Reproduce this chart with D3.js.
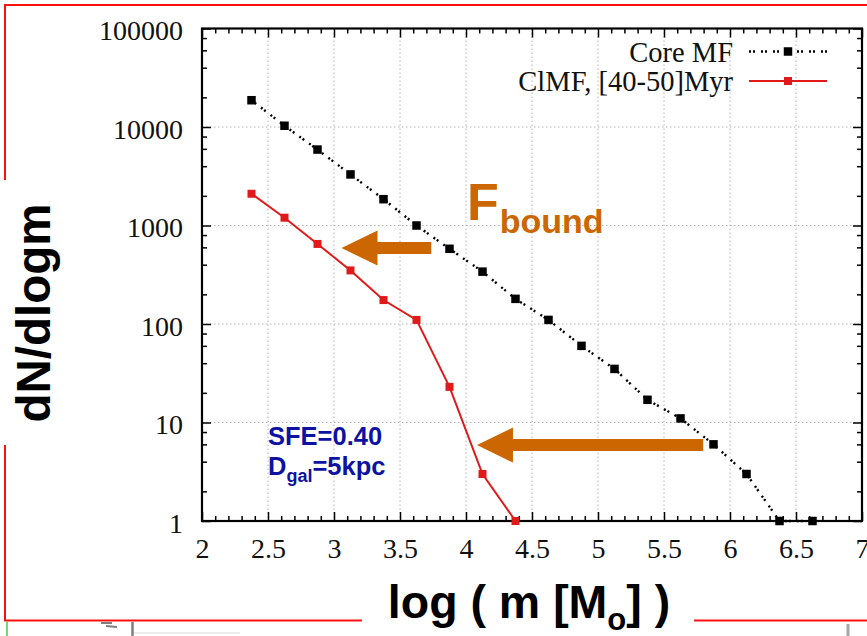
<!DOCTYPE html>
<html>
<head>
<meta charset="utf-8">
<script src="https://cdn.jsdelivr.net/npm/d3@7"></script>
<style>
  html, body { margin: 0; padding: 0; background: #fff; }
  svg { display: block; }
</style>
</head>
<body>
<svg id="chart" width="867" height="636"></svg>
<script>
// Bin centres in log(m [Msun]) and the two mass functions (dN/dlogm)
const massBins = [2.375, 2.625, 2.875, 3.125, 3.375, 3.625, 3.875, 4.125, 4.375,
                  4.625, 4.875, 5.125, 5.375, 5.625, 5.875, 6.125, 6.375, 6.625];
const coreMF = [18700, 10300, 5900, 3300, 1850, 1000, 580, 340, 180,
                110, 60, 35, 17, 11, 6, 3, 1, 1];
const clusterMF = [2100, 1200, 650, 350, 175, 110, 23, 3, 1];

const seriesNames = ["Core MF", "ClMF, [40-50]Myr"];
const xTicks = [2, 2.5, 3, 3.5, 4, 4.5, 5, 5.5, 6, 6.5, 7];
const yTicks = [1, 10, 100, 1000, 10000, 100000];

// Arrows showing the shift by the bound fraction: [xTail, xTip, yLevel]
const shiftArrows = [[3.737, 3.057, 590], [5.797, 4.083, 5.9]];

const svg = d3.select("#chart");
const W = 867, H = 636;
const plot = { left: 202, right: 862, top: 28.5, bottom: 521 };

const x = d3.scaleLinear().domain([2, 7]).range([plot.left, plot.right]);
const y = d3.scaleLog().domain([1, 100000]).range([plot.bottom, plot.top]);

// ---- red slide frame ----
const frame = svg.append("g").attr("stroke", "#ff1010").attr("stroke-width", 2).attr("fill", "none");
frame.append("line").attr("x1", 5).attr("y1", 5).attr("x2", W).attr("y2", 5);
frame.append("line").attr("x1", 5).attr("y1", 4).attr("x2", 5).attr("y2", 180);
frame.append("line").attr("x1", 5).attr("y1", 445).attr("x2", 5).attr("y2", 621);
frame.append("line").attr("x1", 4).attr("y1", 620.5).attr("x2", 362).attr("y2", 620.5);
frame.append("line").attr("x1", 694).attr("y1", 620.5).attr("x2", W).attr("y2", 620.5);
svg.append("line").attr("x1", 7).attr("y1", 622).attr("x2", 7).attr("y2", H)
  .attr("stroke", "#44cc44").attr("stroke-width", 1.5);
// fragments of the slide content below
const frag = svg.append("g").attr("stroke", "#555").attr("fill", "none").attr("opacity", 0.75);
frag.append("path").attr("d", "M101,623 L112,623 M106,626 L117,627").attr("stroke-width", 2);
frag.append("line").attr("x1", 132.5).attr("y1", 622).attr("x2", 132.5).attr("y2", 636).attr("stroke-width", 2.5);
frag.append("line").attr("x1", 134).attr("y1", 633).attr("x2", 240).attr("y2", 633).attr("stroke", "#ccc").attr("stroke-width", 1);
frag.append("line").attr("x1", 848).attr("y1", 624).attr("x2", 848).attr("y2", 636).attr("stroke", "#888").attr("stroke-width", 3);

// ---- grid ----
const grid = svg.append("g").attr("stroke", "#b4b4b4").attr("stroke-width", 1).attr("stroke-dasharray", "1.5,2.5");
grid.selectAll(".gx").data(xTicks.filter(v => v > 2 && v < 7)).join("line")
  .attr("x1", d => x(d)).attr("x2", d => x(d)).attr("y1", plot.top).attr("y2", plot.bottom);
grid.selectAll(".gy").data(yTicks.filter(v => v > 1 && v < 100000)).join("line")
  .attr("y1", d => y(d)).attr("y2", d => y(d)).attr("x1", plot.left).attr("x2", plot.right);

// ---- axes (ticks point inwards on all four sides) ----
const tickFont = "'Liberation Serif', 'Times New Roman', serif";
const xMinor = d3.range(20, 71).map(v => v / 10).filter(v => Math.abs(v * 2 - Math.round(v * 2)) > 1e-6);
const yMinor = [];
for (let e = 0; e < 5; e++) [2, 4, 6, 8].forEach(m => yMinor.push(m * Math.pow(10, e)));

function styleAxis(g) {
  g.select(".domain").remove();
  g.selectAll(".tick line").attr("stroke", "#000").attr("stroke-width", 1.5);
  g.selectAll("text").attr("font-family", tickFont).attr("font-size", 28).attr("fill", "#111");
}

svg.append("g").attr("transform", `translate(0,${plot.bottom})`)
  .call(d3.axisBottom(x).tickValues(xTicks).tickFormat(d3.format("")).tickSizeInner(-9).tickSizeOuter(0).tickPadding(17))
  .call(styleAxis);
svg.append("g").attr("transform", `translate(0,${plot.bottom})`)
  .call(d3.axisBottom(x).tickValues(xMinor).tickFormat("").tickSizeInner(-5).tickSizeOuter(0))
  .call(styleAxis);
svg.append("g").attr("transform", `translate(0,${plot.top})`)
  .call(d3.axisTop(x).tickValues(xTicks).tickFormat("").tickSizeInner(-9).tickSizeOuter(0))
  .call(styleAxis);
svg.append("g").attr("transform", `translate(0,${plot.top})`)
  .call(d3.axisTop(x).tickValues(xMinor).tickFormat("").tickSizeInner(-5).tickSizeOuter(0))
  .call(styleAxis);

svg.append("g").attr("transform", `translate(${plot.left},0)`)
  .call(d3.axisLeft(y).tickValues(yTicks).tickFormat(d3.format("d")).tickSizeInner(-9).tickSizeOuter(0).tickPadding(19))
  .call(styleAxis)
  .call(g => g.selectAll("text").attr("dy", "0.4em"));
svg.append("g").attr("transform", `translate(${plot.left},0)`)
  .call(d3.axisLeft(y).tickValues(yMinor).tickFormat("").tickSizeInner(-5).tickSizeOuter(0))
  .call(styleAxis);
svg.append("g").attr("transform", `translate(${plot.right},0)`)
  .call(d3.axisRight(y).tickValues(yTicks).tickFormat("").tickSizeInner(-9).tickSizeOuter(0))
  .call(styleAxis);
svg.append("g").attr("transform", `translate(${plot.right},0)`)
  .call(d3.axisRight(y).tickValues(yMinor).tickFormat("").tickSizeInner(-5).tickSizeOuter(0))
  .call(styleAxis);

// plot border
svg.append("rect").attr("x", plot.left).attr("y", plot.top)
  .attr("width", plot.right - plot.left).attr("height", plot.bottom - plot.top)
  .attr("fill", "none").attr("stroke", "#000").attr("stroke-width", 2.2);

// ---- series ----
const line = d3.line().x(d => x(d[0])).y(d => y(d[1]));
const coreData = massBins.map((m, i) => [m, coreMF[i]]);
const clusterData = clusterMF.map((v, i) => [massBins[i], v]);

const coreStyle = { color: "#000", width: 2.4, dash: "2,2,2,6", size: 8.5 };
const clStyle = { color: "#e01a1a", width: 2, dash: null, size: 8 };

function drawSeries(data, st) {
  svg.append("path").datum(data).attr("d", line)
    .attr("fill", "none").attr("stroke", st.color).attr("stroke-width", st.width)
    .attr("stroke-dasharray", st.dash);
  svg.append("g").selectAll("rect").data(data).join("rect")
    .attr("x", d => x(d[0]) - st.size / 2).attr("y", d => y(d[1]) - st.size / 2)
    .attr("width", st.size).attr("height", st.size).attr("fill", st.color);
}
drawSeries(coreData, coreStyle);
drawSeries(clusterData, clStyle);

// ---- legend ----
const legend = svg.append("g");
[[seriesNames[0], coreStyle, 51.5], [seriesNames[1], clStyle, 81]].forEach(([name, st, ly]) => {
  legend.append("text").attr("x", 733).attr("y", ly + 10).attr("text-anchor", "end")
    .attr("font-family", tickFont).attr("font-size", 28.5).attr("fill", "#111").text(name);
  legend.append("line").attr("x1", 749).attr("x2", 827).attr("y1", ly).attr("y2", ly)
    .attr("stroke", st.color).attr("stroke-width", st.width).attr("stroke-dasharray", st.dash);
  legend.append("rect").attr("x", 788 - st.size / 2).attr("y", ly - st.size / 2)
    .attr("width", st.size).attr("height", st.size).attr("fill", st.color);
});

// ---- shift arrows ----
const orange = "#cc6600";
shiftArrows.forEach(([x0, x1, yv]) => {
  const xt = x(x0), xh = x(x1), yc = y(yv);
  const shaft = 6, head = 17.5, headLen = 36;
  const pts = [[xt, yc - shaft], [xh + headLen, yc - shaft], [xh + headLen, yc - head], [xh, yc],
               [xh + headLen, yc + head], [xh + headLen, yc + shaft], [xt, yc + shaft]];
  svg.append("path").attr("d", "M" + pts.join("L") + "Z").attr("fill", orange);
});

// F_bound label
const fb = svg.append("text").attr("x", 467).attr("y", 219.5)
  .attr("font-family", "'Liberation Sans', Arial, sans-serif").attr("font-weight", "bold").attr("fill", orange);
fb.append("tspan").attr("font-size", 52).text("F");
fb.append("tspan").attr("font-size", 34).attr("dy", 13).attr("dx", 1).text("bound");

// SFE / Dgal note
const blue = "#0d12a3";
const note = svg.append("g").attr("font-family", "'Liberation Sans', Arial, sans-serif")
  .attr("font-weight", "bold").attr("fill", blue);
note.append("text").attr("x", 268).attr("y", 445).attr("font-size", 25.5).text("SFE=0.40");
const dg = note.append("text").attr("x", 268).attr("y", 475).attr("font-size", 25.5);
dg.append("tspan").text("D");
dg.append("tspan").attr("font-size", 18).attr("dy", 7).text("gal");
dg.append("tspan").attr("dy", -7).text("=5kpc");

// ---- axis titles ----
const titleFont = "'Liberation Sans', Arial, sans-serif";
svg.append("text").attr("transform", "translate(50,313) rotate(-90)").attr("text-anchor", "middle")
  .attr("font-family", titleFont).attr("font-weight", "bold").attr("font-size", 47.5).attr("fill", "#000")
  .text("dN/dlogm");

const xt = svg.append("text").attr("x", 529).attr("y", 618).attr("text-anchor", "middle")
  .attr("font-family", titleFont).attr("font-weight", "bold").attr("font-size", 46.5).attr("fill", "#000")
  .attr("xml:space", "preserve");
xt.append("tspan").text("log ( m [M");
xt.append("tspan").attr("font-size", 31).attr("dy", 12).text("o");
xt.append("tspan").attr("dy", -12).text("] )");
</script>
</body>
</html>
